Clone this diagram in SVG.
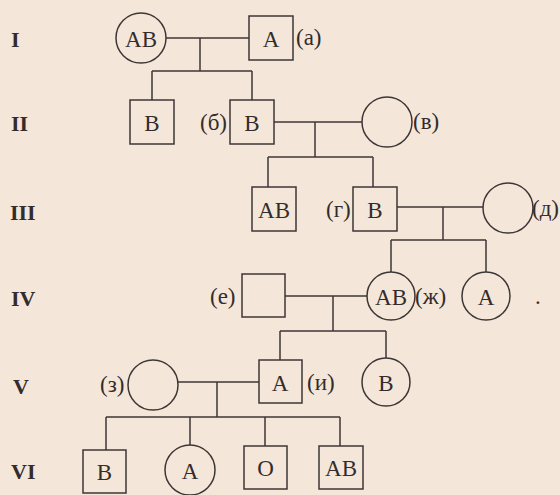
<svg xmlns="http://www.w3.org/2000/svg" width="560" height="495" viewBox="0 0 560 495">
<style>
.bg{fill:#f4e7d9}
.sh{fill:none;stroke:#3e3636;stroke-width:1.5}
.ln{fill:none;stroke:#3e3636;stroke-width:1.5}
.t{font-family:"Liberation Serif","Times New Roman",serif;font-size:23px;fill:#332c2c;text-anchor:middle;dominant-baseline:central}
.lb{font-family:"Liberation Serif","Times New Roman",serif;font-size:23px;fill:#332c2c;dominant-baseline:central}
.gen{font-family:"Liberation Serif","Times New Roman",serif;font-size:22px;font-weight:bold;fill:#332c2c;dominant-baseline:central}
</style>
<rect class="bg" x="0" y="0" width="560" height="495"/>
<g id="generations">
<text class="gen" x="11" y="39">I</text>
<text class="gen" x="11" y="123">II</text>
<text class="gen" x="10" y="212">III</text>
<text class="gen" x="11" y="298">IV</text>
<text class="gen" x="13" y="386">V</text>
<text class="gen" x="11" y="471">VI</text>
</g>
<g id="connectors">
<path class="ln" d="M166,38 H249 M200,38 V71 M152,71 H252 M152,71 V100 M252,71 V100"/>
<path class="ln" d="M274,122 H362 M315,122 V157 M268,157 H373 M268,157 V187 M373,157 V187"/>
<path class="ln" d="M397,207 H483 M443,207 V240 M391,240 H486 M391,240 V272 M486,240 V272"/>
<path class="ln" d="M285,296 H367 M333,296 V331 M280,331 H386 M280,331 V360 M386,331 V358"/>
<path class="ln" d="M178,382 H259 M217,382 V417 M106,417 H340 M106,417 V450 M190,417 V445 M265,417 V446 M340,417 V446"/>
</g>
<g id="n-I1"><circle class="sh" cx="141" cy="38" r="25"/><text class="t" x="141" y="39">AB</text></g>
<g id="n-I2"><rect class="sh" x="249" y="16" width="44" height="44"/><text class="t" x="271" y="39">A</text><text class="lb" x="296" y="37">(а)</text></g>
<g id="n-II1"><rect class="sh" x="130" y="100" width="44" height="44"/><text class="t" x="152" y="123">B</text></g>
<g id="n-II2"><rect class="sh" x="230" y="100" width="44" height="44"/><text class="t" x="252" y="123">B</text><text class="lb" x="200" y="122">(б)</text></g>
<g id="n-II3"><circle class="sh" cx="387" cy="122" r="25"/><text class="lb" x="413" y="121">(в)</text></g>
<g id="n-III1"><rect class="sh" x="252" y="187" width="44" height="44"/><text class="t" x="274" y="210">AB</text></g>
<g id="n-III2"><rect class="sh" x="353" y="187" width="44" height="44"/><text class="t" x="375" y="210">B</text><text class="lb" x="326" y="209">(г)</text></g>
<g id="n-III3"><circle class="sh" cx="508" cy="208" r="25"/><text class="lb" x="532" y="208">(д)</text></g>
<g id="n-IV1"><rect class="sh" x="242" y="274" width="43" height="43"/><text class="lb" x="210" y="296">(е)</text></g>
<g id="n-IV2"><circle class="sh" cx="391" cy="296" r="24"/><text class="t" x="391" y="297">AB</text><text class="lb" x="415" y="296">(ж)</text></g>
<g id="n-IV3"><circle class="sh" cx="486" cy="296" r="24"/><text class="t" x="486" y="297">A</text></g>
<text class="lb" x="535" y="296">.</text>
<g id="n-V1"><circle class="sh" cx="153" cy="385" r="25"/><text class="lb" x="100" y="384">(з)</text></g>
<g id="n-V2"><rect class="sh" x="259" y="360" width="43" height="43"/><text class="t" x="280" y="383">A</text><text class="lb" x="307" y="382">(и)</text></g>
<g id="n-V3"><circle class="sh" cx="386" cy="382" r="24"/><text class="t" x="386" y="383">B</text></g>
<g id="n-VI1"><rect class="sh" x="83" y="450" width="43" height="43"/><text class="t" x="104.5" y="472">B</text></g>
<g id="n-VI2"><circle class="sh" cx="190" cy="470" r="25"/><text class="t" x="190" y="471">A</text></g>
<g id="n-VI3"><rect class="sh" x="244" y="446" width="43" height="43"/><text class="t" x="265.5" y="468">O</text></g>
<g id="n-VI4"><rect class="sh" x="319" y="446" width="44" height="43"/><text class="t" x="341" y="468">AB</text></g>
</svg>
